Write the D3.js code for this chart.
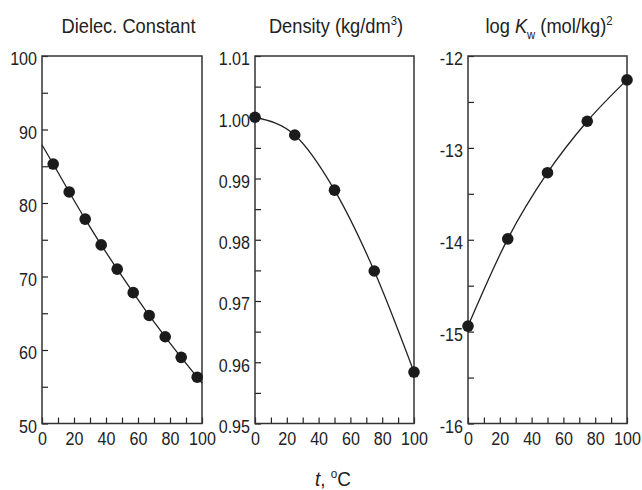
<!DOCTYPE html>
<html>
<head>
<meta charset="utf-8">
<script src="https://cdn.jsdelivr.net/npm/d3@7"></script>
<style>
  body { margin: 0; background: #fff; }
  svg { display: block; }
  text { font-family: "Liberation Sans", Arial, Helvetica, sans-serif; fill: #222; }
</style>
</head>
<body>
<svg id="chart" width="642" height="490"></svg>
<script>
// Temperature axis (°C), shared by the three panels
const tempMajor = [0, 20, 40, 60, 80, 100];
const tempMinor = [0, 10, 20, 30, 40, 50, 60, 70, 80, 90, 100];

// Dielectric constant of water
const dielecT = [7, 17, 27, 37, 47, 57, 67, 77, 87, 97];
const dielecV = [85.3, 81.5, 77.8, 74.3, 71.0, 67.8, 64.7, 61.8, 59.0, 56.3];
const dielecFitEndT = [0, 100];
const dielecFitEndV = [87.9, 55.5];
const dielecMajor = [50, 60, 70, 80, 90, 100];

// Density of water, kg/dm3
const densT = [0, 25, 50, 75, 100];
const densV = [1.0000, 0.9971, 0.9881, 0.9749, 0.9584];
const densMajor = [0.95, 0.96, 0.97, 0.98, 0.99, 1.00, 1.01];

// Ion product of water, log Kw
const kwT = [0, 25, 50, 75, 100];
const kwV = [-14.94, -13.99, -13.27, -12.71, -12.26];
const kwMajor = [-16, -15, -14, -13, -12];

const svg = d3.select("#chart");
const plotTop = 56, plotBottom = 423.5;
const ink = "#222";

// horizontally condense a text node (the lettering is a narrow sans)
function squeeze(sel, k) {
  sel.each(function () {
    const len = this.getComputedTextLength();
    if (len > 0) d3.select(this).attr("textLength", len * k).attr("lengthAdjust", "spacingAndGlyphs");
  });
}

function midpoints(arr) {
  const out = [];
  for (let i = 0; i < arr.length - 1; i++) out.push(+((arr[i] + arr[i + 1]) / 2).toFixed(4));
  return out;
}

const panels = [
  { x0: 42, x1: 202, domain: [50, 100], major: dielecMajor, fmt: d => String(d),
    t: dielecT, v: dielecV, curveT: dielecT.concat(dielecFitEndT), curveV: dielecV.concat(dielecFitEndV) },
  { x0: 255, x1: 414, domain: [0.95, 1.01], major: densMajor, fmt: d => d.toFixed(2),
    t: densT, v: densV, curveT: densT, curveV: densV },
  { x0: 468, x1: 627, domain: [-16, -12], major: kwMajor, fmt: d => String(d),
    t: kwT, v: kwV, curveT: kwT, curveV: kwV }
];

panels.forEach(p => {
  const x = d3.scaleLinear().domain([0, 100]).range([p.x0, p.x1]);
  const y = d3.scaleLinear().domain(p.domain).range([plotBottom, plotTop]);
  const g = svg.append("g");

  // y axis: labelled majors plus unlabelled half-steps, ticks pointing inward
  const yTicks = p.major.concat(midpoints(p.major)).sort((a, b) => a - b);
  const yAxis = g.append("g")
    .attr("transform", `translate(${p.x0},0)`)
    .call(d3.axisLeft(y).tickValues(yTicks).tickSize(-6).tickPadding(5)
      .tickFormat(d => p.major.some(m => Math.abs(m - d) < 1e-9) ? p.fmt(d) : ""));
  yAxis.select(".domain").remove();
  yAxis.selectAll("line").attr("stroke", ink).attr("stroke-width", 1.2);
  yAxis.selectAll("text").attr("font-size", 17.5).attr("dy", "0.5em").attr("fill", ink)
    .call(squeeze, 0.92);

  // x axis
  const xAxis = g.append("g")
    .attr("transform", `translate(0,${plotBottom})`)
    .call(d3.axisBottom(x).tickValues(tempMinor).tickSize(-6).tickPadding(9)
      .tickFormat(d => tempMajor.includes(d) ? String(d) : ""));
  xAxis.select(".domain").remove();
  xAxis.selectAll("line").attr("stroke", ink).attr("stroke-width", 1.2);
  xAxis.selectAll("text").attr("font-size", 17.5).attr("fill", ink).call(squeeze, 0.92);

  // frame
  g.append("rect")
    .attr("x", p.x0).attr("y", plotTop)
    .attr("width", p.x1 - p.x0).attr("height", plotBottom - plotTop)
    .attr("fill", "none").attr("stroke", "#333").attr("stroke-width", 1.5);

  // fitted curve
  const curvePts = p.curveT.map((t, i) => [t, p.curveV[i]]).sort((a, b) => a[0] - b[0]);
  g.append("path")
    .datum(curvePts)
    .attr("fill", "none").attr("stroke", ink).attr("stroke-width", 1.3)
    .attr("d", d3.line().x(d => x(d[0])).y(d => y(d[1])).curve(d3.curveMonotoneX));

  // measured points
  g.selectAll("circle.pt")
    .data(p.t.map((t, i) => [t, p.v[i]]))
    .join("circle")
    .attr("class", "pt")
    .attr("cx", d => x(d[0])).attr("cy", d => y(d[1]))
    .attr("r", 5.8).attr("fill", "#1b1b1b");
});

// panel titles
function title(cx, build) {
  const grp = svg.append("g").attr("transform", `translate(${cx},32.5) scale(0.87,1)`);
  const t = grp.append("text").attr("text-anchor", "middle").attr("font-size", 21);
  build(t);
}
title(128.5, t => t.text("Dielec. Constant"));
title(336, t => {
  t.append("tspan").text("Density (kg/dm");
  t.append("tspan").attr("font-size", 13).attr("dy", -8).text("3");
  t.append("tspan").attr("dy", 8).text(")");
});
title(549, t => {
  t.append("tspan").text("log ");
  t.append("tspan").attr("font-style", "italic").text("K");
  t.append("tspan").attr("font-size", 13).attr("dy", 6).text("w");
  t.append("tspan").attr("dy", -6).text(" (mol/kg)");
  t.append("tspan").attr("font-size", 13).attr("dy", -8).text("2");
});

// shared x-axis label
const xl = svg.append("g").attr("transform", "translate(333,486) scale(0.9,1)")
  .append("text").attr("text-anchor", "middle").attr("font-size", 21);
xl.append("tspan").attr("font-style", "italic").text("t");
xl.append("tspan").text(", ");
xl.append("tspan").attr("font-size", 13).attr("dy", -8).text("o");
xl.append("tspan").attr("dy", 8).text("C");
</script>
</body>
</html>
